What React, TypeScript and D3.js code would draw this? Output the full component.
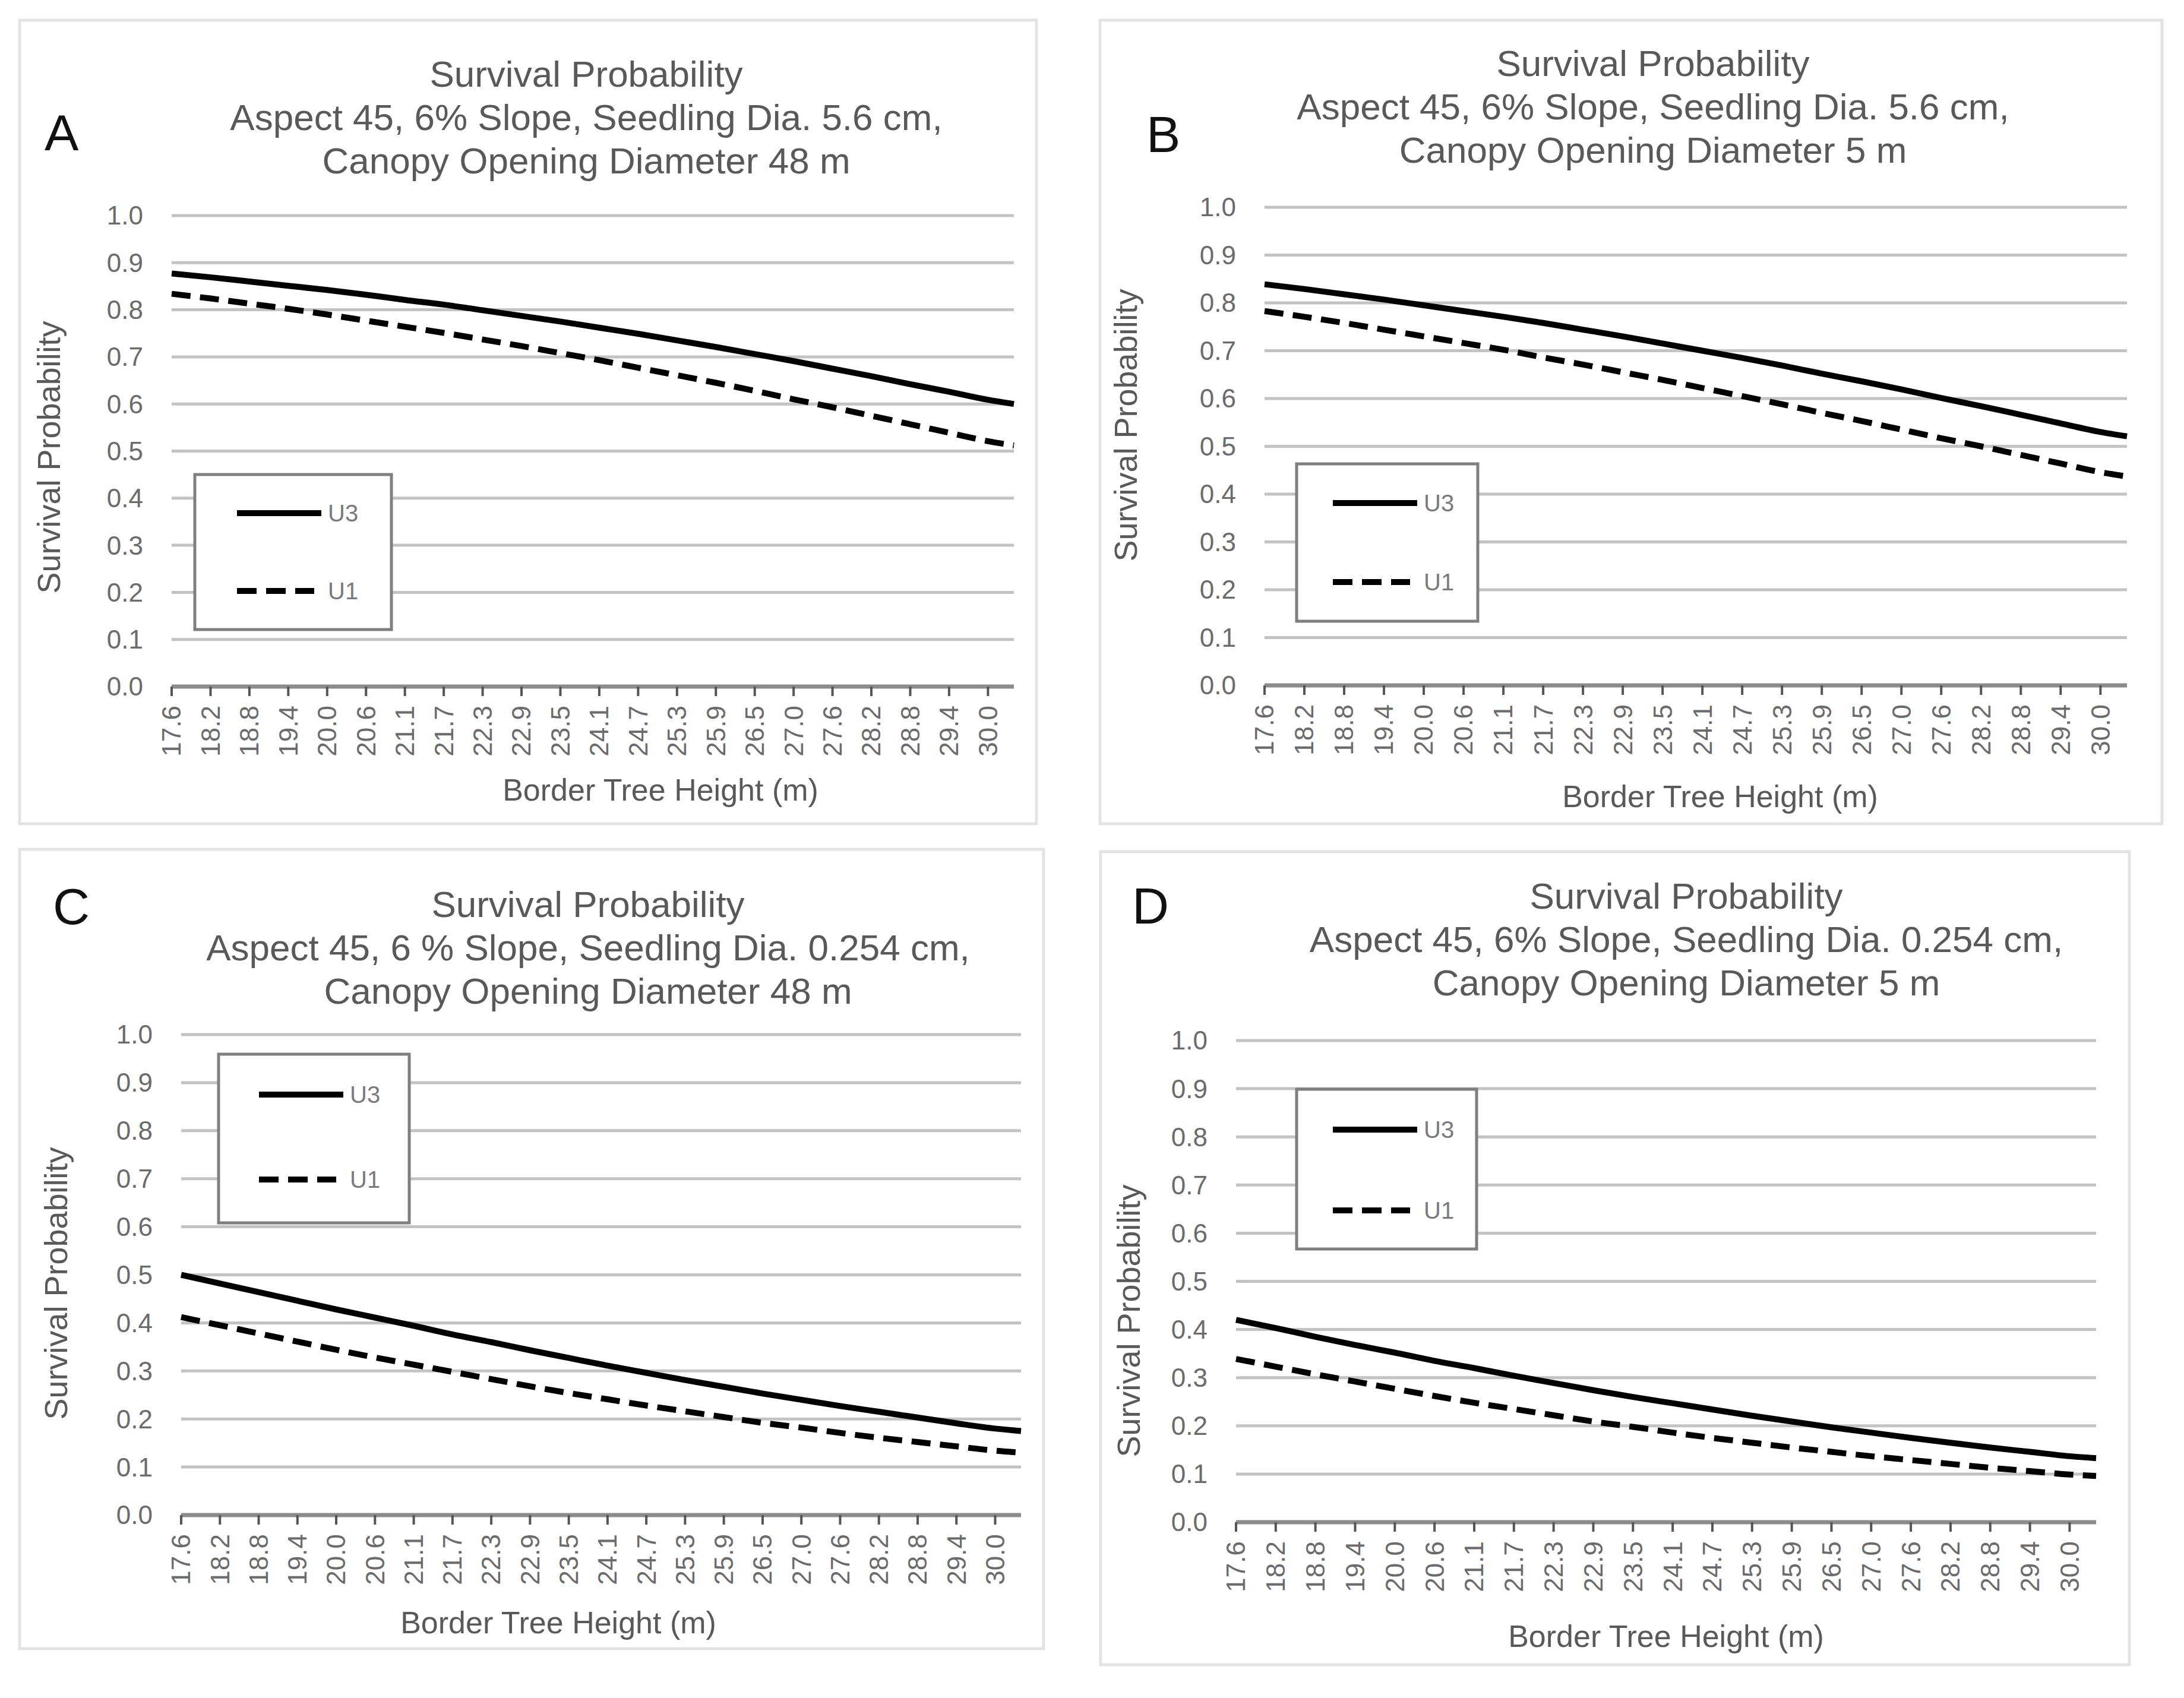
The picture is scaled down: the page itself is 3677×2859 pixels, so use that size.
import React from 'react';
import * as d3 from 'd3';

// category labels on the x axis (every third category is labelled)
const xLabels = [
  '17.6', '18.2', '18.8', '19.4', '20.0', '20.6', '21.1', '21.7', '22.3', '22.9', '23.5',
  '24.1', '24.7', '25.3', '25.9', '26.5', '27.0', '27.6', '28.2', '28.8', '29.4', '30.0',
];
const yTicks = [0, 0.1, 0.2, 0.3, 0.4, 0.5, 0.6, 0.7, 0.8, 0.9, 1.0];

// values read at each labelled height, plus the last category past 30.0
const u3A = [0.877, 0.869, 0.860, 0.851, 0.842, 0.832, 0.821, 0.811, 0.799, 0.787, 0.775, 0.762,
  0.749, 0.735, 0.721, 0.706, 0.691, 0.675, 0.659, 0.642, 0.626, 0.609, 0.600];
const u1A = [0.834, 0.824, 0.813, 0.802, 0.790, 0.777, 0.764, 0.751, 0.737, 0.723, 0.708, 0.693,
  0.677, 0.661, 0.645, 0.628, 0.610, 0.593, 0.575, 0.557, 0.539, 0.521, 0.512];
const u3B = [0.839, 0.829, 0.818, 0.807, 0.795, 0.783, 0.771, 0.758, 0.744, 0.730, 0.715, 0.700,
  0.685, 0.669, 0.652, 0.636, 0.619, 0.601, 0.584, 0.566, 0.548, 0.530, 0.521];
const u1B = [0.783, 0.771, 0.758, 0.744, 0.730, 0.716, 0.702, 0.686, 0.671, 0.655, 0.639, 0.622,
  0.605, 0.588, 0.570, 0.553, 0.535, 0.517, 0.500, 0.482, 0.464, 0.446, 0.437];
const u3C = [0.500, 0.482, 0.464, 0.446, 0.428, 0.411, 0.394, 0.376, 0.360, 0.343, 0.327, 0.311,
  0.296, 0.281, 0.267, 0.253, 0.240, 0.227, 0.215, 0.203, 0.191, 0.180, 0.175];
const u1C = [0.412, 0.395, 0.378, 0.361, 0.344, 0.328, 0.313, 0.298, 0.283, 0.268, 0.254, 0.241,
  0.228, 0.216, 0.204, 0.192, 0.182, 0.171, 0.161, 0.152, 0.143, 0.134, 0.130];
const u3D = [0.420, 0.403, 0.385, 0.368, 0.352, 0.335, 0.320, 0.304, 0.289, 0.274, 0.260, 0.247,
  0.234, 0.221, 0.209, 0.197, 0.186, 0.175, 0.165, 0.155, 0.146, 0.137, 0.133];
const u1D = [0.339, 0.323, 0.307, 0.292, 0.277, 0.262, 0.248, 0.235, 0.222, 0.209, 0.198, 0.186,
  0.175, 0.165, 0.155, 0.146, 0.137, 0.129, 0.121, 0.113, 0.106, 0.099, 0.096];

const titleA = ['Survival Probability', 'Aspect 45, 6% Slope, Seedling Dia. 5.6 cm,', 'Canopy Opening Diameter 48 m'];
const titleB = ['Survival Probability', 'Aspect 45, 6% Slope, Seedling Dia. 5.6 cm,', 'Canopy Opening Diameter 5 m'];
const titleC = ['Survival Probability', 'Aspect 45, 6 % Slope, Seedling Dia. 0.254 cm,', 'Canopy Opening Diameter 48 m'];
const titleD = ['Survival Probability', 'Aspect 45, 6% Slope, Seedling Dia. 0.254 cm,', 'Canopy Opening Diameter 5 m'];

const seriesNames = ['U3', 'U1'];

// page-pixel layout of each panel
const layouts: Record<string, any> = {
  A: { box: [33, 34, 1745, 1387], plot: [289, 363, 1707, 1156], titleX: 987, titleY: 146, letter: [75, 253],
    yTitle: [82, 770], xTitle: [1112, 1330], legend: [328, 799, 659, 1060], legY: [864, 995], legX: 399 },
  B: { box: [1852, 34, 3640, 1387], plot: [2129, 349, 3581, 1154], titleX: 2783, titleY: 128, letter: [1930, 256],
    yTitle: [1895, 716], xTitle: [2896, 1341], legend: [2183, 781, 2488, 1046], legY: [847, 980], legX: 2244 },
  C: { box: [33, 1430, 1757, 2776], plot: [305, 1742, 1719, 2551], titleX: 990, titleY: 1544, letter: [89, 1556],
    yTitle: [94, 2161], xTitle: [940, 2732], legend: [368, 1775, 689, 2059], legY: [1843, 1986], legX: 436 },
  D: { box: [1853, 1434, 3585, 2803], plot: [2081, 1752, 3529, 2563], titleX: 2839, titleY: 1530, letter: [1906, 1555],
    yTitle: [1900, 2224], xTitle: [2805, 2755], legend: [2183, 1834, 2486, 2103], legY: [1902, 2038], legX: 2244 },
};

const FONT = '"Liberation Sans", Arial, sans-serif';
const GREY_TEXT = '#595959';

function Panel({ id, title, u3, u1 }: { id: string; title: string[]; u3: number[]; u1: number[] }) {
  const L = layouts[id];
  const [px0, py0, px1, py1] = L.plot;
  const lastPos = xLabels.length - 1 + 2 / 3;
  const x = d3.scaleLinear().domain([0, lastPos]).range([px0, px1]);
  const y = d3.scaleLinear().domain([0, 1]).range([py1, py0]);
  const pos = u3.map((_, i) => (i < xLabels.length ? i : lastPos));
  const line = d3.line<number>()
    .x((_, i) => x(pos[i]))
    .y(d => y(d))
    .curve(d3.curveMonotoneX);
  const [bx0, by0, bx1, by1] = L.box;
  const [lx0, ly0, lx1, ly1] = L.legend;

  return (
    <g>
      <rect x={bx0} y={by0} width={bx1 - bx0} height={by1 - by0} fill="#fff" stroke="#e3e3e3" strokeWidth={5} />
      <text x={L.titleX} y={L.titleY} textAnchor="middle" fontFamily={FONT} fontSize={62} fill={GREY_TEXT}>
        {title.map((t, i) => (
          <tspan key={i} x={L.titleX} dy={i === 0 ? 0 : 73}>{t}</tspan>
        ))}
      </text>
      <text x={L.letter[0]} y={L.letter[1]} fontFamily={FONT} fontSize={86} fill="#111">{id}</text>

      {yTicks.filter(t => t > 0).map(t => (
        <line key={t} x1={px0} x2={px1} y1={y(t)} y2={y(t)} stroke="#c3c3c3" strokeWidth={5} />
      ))}
      {yTicks.map(t => (
        <text key={t} x={px0 - 48} y={y(t)} dy="0.35em" textAnchor="end" fontFamily={FONT} fontSize={44}
          fill="#6b6b6b">{t.toFixed(1)}</text>
      ))}

      <line x1={px0} x2={px1} y1={y(0)} y2={y(0)} stroke="#8c8c8c" strokeWidth={7} />
      {xLabels.map((lab, i) => (
        <g key={lab} transform={`translate(${x(i)},${y(0)})`}>
          <line y1={0} y2={16} stroke="#555" strokeWidth={4} />
          <text transform="translate(0,32) rotate(-90)" dy="0.35em" textAnchor="end" fontFamily={FONT}
            fontSize={44} fill="#6b6b6b">{lab}</text>
        </g>
      ))}

      <path d={line(u1) ?? ''} fill="none" stroke="#000" strokeWidth={10} strokeDasharray="32,16" />
      <path d={line(u3) ?? ''} fill="none" stroke="#000" strokeWidth={10} />

      <rect x={lx0} y={ly0} width={lx1 - lx0} height={ly1 - ly0} fill="#fff" stroke="#7f7f7f" strokeWidth={5} />
      {seriesNames.map((name, i) => (
        <g key={name}>
          <line x1={L.legX} x2={L.legX + (i === 0 ? 142 : 130)} y1={L.legY[i]} y2={L.legY[i]} stroke="#000"
            strokeWidth={10} strokeDasharray={i === 0 ? undefined : '33,16'} />
          <text x={L.legX + 153} y={L.legY[i]} dy="0.35em" fontFamily={FONT} fontSize={40} fill="#7a7a7a">{name}</text>
        </g>
      ))}

      <text transform={`translate(${L.yTitle[0]},${L.yTitle[1]}) rotate(-90)`} dy="0.35em" textAnchor="middle"
        fontFamily={FONT} fontSize={54} fill={GREY_TEXT}>Survival Probability</text>
      <text x={L.xTitle[0]} y={L.xTitle[1]} dy="0.35em" textAnchor="middle" fontFamily={FONT} fontSize={52}
        fill={GREY_TEXT}>Border Tree Height (m)</text>
    </g>
  );
}

export default function App() {
  return (
    <svg width={3677} height={2859} viewBox="0 0 3677 2859"
      style={{ position: 'absolute', left: 0, top: 0, background: '#fff' }}>
      <rect width={3677} height={2859} fill="#fff" />
      <Panel id="A" title={titleA} u3={u3A} u1={u1A} />
      <Panel id="B" title={titleB} u3={u3B} u1={u1B} />
      <Panel id="C" title={titleC} u3={u3C} u1={u1C} />
      <Panel id="D" title={titleD} u3={u3D} u1={u1D} />
    </svg>
  );
}
